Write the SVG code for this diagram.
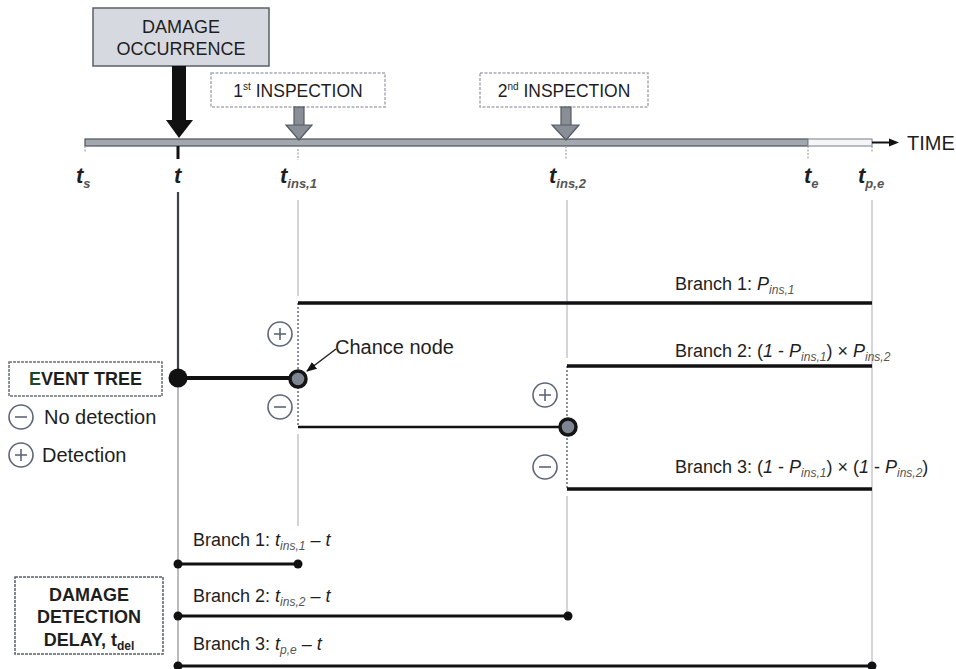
<svg xmlns="http://www.w3.org/2000/svg" width="956" height="669" viewBox="0 0 956 669">
<style>
text{font-family:"Liberation Sans",Arial,sans-serif;fill:#1e1e1e}
.box18{font-size:18px}
.lbl{font-size:18px}
.big{font-size:20px}
.bold{font-weight:bold}
.it{font-style:italic}
.sub{font-size:12px;font-style:italic;fill:#555}
.tl{font-size:22px;font-weight:bold;font-style:italic}
.tsub{font-size:13px;font-weight:bold;font-style:italic;fill:#555}
.vguide{stroke:#d2d5da;stroke-width:2;fill:none}
.tick{stroke:#9aa0a8;stroke-width:1.2;stroke-dasharray:2 1.5}
.branch{stroke:#111;stroke-width:3.5;fill:none}
.delay{stroke:#111;stroke-width:3;fill:none}
.dotv{stroke:#8a90a0;stroke-width:2;stroke-dasharray:2 2;fill:none}
.sym{fill:#fff;stroke:#5e6676;stroke-width:1.6}
.symline{stroke:#5e6676;stroke-width:1.6}
.chance{fill:#7d8593;stroke:#151515;stroke-width:3.5}
.enddot{fill:#111}
.inspbox{fill:#fff;stroke:#a8acb4;stroke-width:1.5;stroke-dasharray:3 1.5}
.inspArrow{fill:#8a8e96;stroke:#555a62;stroke-width:1.2}
</style>
<defs>
<marker id="ah" viewBox="0 0 10 10" refX="9" refY="5" markerWidth="7" markerHeight="7" orient="auto">
<path d="M0,1 L10,5 L0,9 z" fill="#111"/>
</marker>
<g id="plus-sym"><circle r="12" class="sym"/><line x1="-6" y1="0" x2="6" y2="0" class="symline"/><line x1="0" y1="-6" x2="0" y2="6" class="symline"/></g>
<g id="minus-sym"><circle r="12" class="sym"/><line x1="-6" y1="0" x2="6" y2="0" class="symline"/></g>
</defs>
<rect width="956" height="669" fill="#fff"/>

<!-- vertical guide lines -->
<g id="guides">
<line x1="178" y1="192" x2="178" y2="378" stroke="#3d4148" stroke-width="2.2"/>
<line x1="178" y1="386" x2="178" y2="669" stroke="#a0a4ac" stroke-width="1.5"/>
<line x1="298" y1="200" x2="298" y2="296" class="vguide"/>
<line x1="298" y1="434" x2="298" y2="526" class="vguide"/>
<line x1="567" y1="200" x2="567" y2="358" class="vguide"/>
<line x1="567" y1="496" x2="567" y2="617" class="vguide"/>
<line x1="872" y1="200" x2="872" y2="666" class="vguide"/>
</g>

<!-- timeline -->
<g id="timeline">
<rect x="85" y="139" width="723" height="7" fill="#a3a7ae" stroke="#4f535a" stroke-width="1.2"/>
<rect x="808" y="139" width="64" height="7" fill="#f4f5f6" stroke="#8d9198" stroke-width="1.2"/>
<line x1="872" y1="142.5" x2="891" y2="142.5" stroke="#111" stroke-width="2"/>
<polygon points="889,138.5 899,142.5 889,146.5" fill="#111"/>
<text x="907" y="150" class="big">TIME</text>
<line x1="85" y1="146" x2="85" y2="153" class="tick"/>
<line x1="178" y1="146" x2="178" y2="159" stroke="#111" stroke-width="3"/>
<line x1="298" y1="149" x2="298" y2="160" class="tick"/>
<line x1="566" y1="146" x2="566" y2="160" class="tick"/>
<line x1="808" y1="146" x2="808" y2="160" class="tick"/>
<line x1="872" y1="146" x2="872" y2="153" class="tick"/>
<text x="76" y="183" class="tl">t<tspan class="tsub" dy="5">s</tspan></text>
<text x="174" y="183" class="tl">t</text>
<text x="280" y="183" class="tl">t<tspan class="tsub" dy="5">ins,1</tspan></text>
<text x="549" y="183" class="tl">t<tspan class="tsub" dy="5">ins,2</tspan></text>
<text x="804" y="183" class="tl">t<tspan class="tsub" dy="5">e</tspan></text>
<text x="858" y="183" class="tl">t<tspan class="tsub" dy="5">p,e</tspan></text>
</g>

<!-- damage occurrence -->
<g id="damage-occurrence">
<rect x="93" y="8" width="176" height="58" fill="#d6d9e0" stroke="#5a5f68" stroke-width="1.5"/>
<text x="181" y="33" class="box18" text-anchor="middle">DAMAGE</text>
<text x="181" y="55" class="box18" text-anchor="middle">OCCURRENCE</text>
<rect x="172" y="66" width="14" height="55" fill="#111"/>
<polygon points="166,120 193,120 179,138" fill="#111"/>
</g>

<!-- inspections -->
<g id="inspection-1">
<rect x="211" y="73" width="174" height="34" class="inspbox"/>
<text x="298" y="97" font-size="17.5" text-anchor="middle">1<tspan font-size="10" dy="-7">st</tspan><tspan dy="7"> INSPECTION</tspan></text>
<rect x="294" y="107" width="10" height="19" class="inspArrow"/>
<polygon points="286,125 312,125 299,140" class="inspArrow"/>
</g>
<g id="inspection-2">
<rect x="480" y="73" width="168" height="34" class="inspbox"/>
<text x="564" y="97" font-size="17.5" text-anchor="middle">2<tspan font-size="10" dy="-7">nd</tspan><tspan dy="7"> INSPECTION</tspan></text>
<rect x="561" y="107" width="10" height="19" class="inspArrow"/>
<polygon points="552,125 579,125 566,140" class="inspArrow"/>
</g>

<!-- connectors -->
<g id="connectors">
<line x1="178" y1="378" x2="298" y2="378" stroke="#111" stroke-width="4"/>
<line x1="298" y1="303" x2="298" y2="427" class="dotv"/>
<line x1="298" y1="303" x2="872" y2="303" class="branch"/>
<line x1="298" y1="427" x2="568" y2="427" stroke="#111" stroke-width="2.5"/>
<line x1="567" y1="366" x2="567" y2="489" class="dotv"/>
<line x1="567" y1="366" x2="872" y2="366" class="branch"/>
<line x1="567" y1="489" x2="872" y2="489" class="branch"/>
<line x1="336" y1="349" x2="307" y2="371" stroke="#222" stroke-width="1.5" marker-end="url(#ah)"/>
<line x1="178" y1="564" x2="298" y2="564" class="delay"/>
<line x1="178" y1="616" x2="568" y2="616" class="delay"/>
<line x1="178" y1="666" x2="872" y2="666" class="delay"/>
<circle cx="178" cy="564" r="4.5" class="enddot"/><circle cx="298" cy="564" r="4.5" class="enddot"/>
<circle cx="178" cy="616" r="4.5" class="enddot"/><circle cx="568" cy="616" r="4.5" class="enddot"/>
<circle cx="178" cy="666" r="4.5" class="enddot"/><circle cx="872" cy="666" r="4.5" class="enddot"/>
</g>

<!-- nodes -->
<g id="root-node"><circle cx="178" cy="378" r="9.5" fill="#111"/></g>
<g id="chance-node-1">
<circle cx="298" cy="379" r="8" class="chance"/>
<use href="#plus-sym" x="280" y="334"/>
<use href="#minus-sym" x="280" y="407"/>
<text x="335" y="354" class="big">Chance node</text>
</g>
<g id="chance-node-2">
<circle cx="568" cy="427" r="8" class="chance"/>
<use href="#plus-sym" x="545" y="395"/>
<use href="#minus-sym" x="545" y="467"/>
</g>

<!-- branch labels -->
<g id="branch-labels">
<text x="675" y="290" class="lbl">Branch 1: <tspan class="it">P</tspan><tspan class="sub" dy="4">ins,1</tspan></text>
<text x="675" y="357" class="lbl">Branch 2: (<tspan class="it">1</tspan> - <tspan class="it">P</tspan><tspan class="sub" dy="4">ins,1</tspan><tspan dy="-4">) × </tspan><tspan class="it">P</tspan><tspan class="sub" dy="4">ins,2</tspan></text>
<text x="675" y="473" class="lbl">Branch 3: (<tspan class="it">1</tspan> - <tspan class="it">P</tspan><tspan class="sub" dy="4">ins,1</tspan><tspan dy="-4">) × (</tspan><tspan class="it">1</tspan> - <tspan class="it">P</tspan><tspan class="sub" dy="4">ins,2</tspan><tspan dy="-4">)</tspan></text>
<text x="193" y="546" class="lbl">Branch 1: <tspan class="it">t</tspan><tspan class="sub" dy="4">ins,1</tspan><tspan class="it" dy="-4"> – t</tspan></text>
<text x="193" y="602" class="lbl">Branch 2: <tspan class="it">t</tspan><tspan class="sub" dy="4">ins,2</tspan><tspan class="it" dy="-4"> – t</tspan></text>
<text x="193" y="650" class="lbl">Branch 3: <tspan class="it">t</tspan><tspan class="sub" dy="4">p,e</tspan><tspan class="it" dy="-4"> – t</tspan></text>
</g>

<!-- legend -->
<g id="event-tree-legend">
<rect x="9" y="362" width="153" height="34" fill="#fff" stroke="#6a6f78" stroke-width="1.5" stroke-dasharray="3 1"/>
<text x="85.5" y="385" class="lbl bold" text-anchor="middle"><tspan fill="#1d4a26">E</tspan>VENT TREE</text>
<use href="#minus-sym" x="21" y="417"/>
<text x="44" y="424" class="big">No detection</text>
<use href="#plus-sym" x="21" y="455"/>
<text x="42" y="462" class="big">Detection</text>
</g>

<g id="delay-box">
<rect x="15" y="577" width="148" height="77" fill="#fff" stroke="#5a5f68" stroke-width="1.5" stroke-dasharray="3 1"/>
<text x="89" y="601" class="lbl bold" text-anchor="middle">DAMAGE</text>
<text x="89" y="623" class="lbl bold" text-anchor="middle">DETECTION</text>
<text x="89" y="646" class="lbl bold" text-anchor="middle">DELAY, t<tspan font-size="12" dy="4">del</tspan></text>
</g>
</svg>
